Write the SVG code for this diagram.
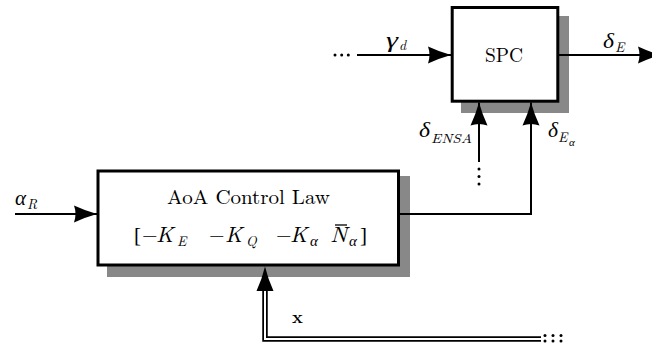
<svg xmlns="http://www.w3.org/2000/svg" width="652" height="350" viewBox="0 0 652 350">
<style>
.box{fill:#fff;stroke:#000;stroke-width:3}
.shadow{fill:#888}
.ln{fill:none;stroke:#000;stroke-width:2}
.t{font-family:"Latin Modern Roman","Liberation Serif","DejaVu Serif",serif;fill:#000}
.g{font-family:"Liberation Serif","DejaVu Serif",serif;font-style:italic;fill:#000}
.b{font-family:"Liberation Serif","DejaVu Serif",serif;font-style:normal;fill:#000}
.i{font-style:italic}
.dot{fill:#000}
</style>
<defs>
<marker id="ah" markerUnits="userSpaceOnUse" viewBox="-24 -9 25 18" refX="0" refY="0" markerWidth="25" markerHeight="18" orient="auto">
<path d="M0,0 Q-11,-3 -23,-8.5 Q-20,0 -23,8.5 Q-11,3 0,0 Z" fill="#000"/>
</marker>
</defs>
<g id="spc">
<rect class="shadow" x="461" y="16" width="108" height="97"/>
<rect class="box" x="452.2" y="7.5" width="105.6" height="93.7"/>
<text class="t" x="485" y="62" font-size="20" textLength="38" lengthAdjust="spacingAndGlyphs">SPC</text>
</g>
<g id="aoa">
<rect class="shadow" x="107" y="176" width="303" height="101"/>
<rect class="box" x="98" y="171" width="300.5" height="94"/>
<text class="t" x="167" y="204" font-size="20" textLength="163" lengthAdjust="spacingAndGlyphs">AoA Control Law</text>
<text class="b" font-size="21" x="134" y="242">[</text>
<text class="t" font-size="20" x="142" y="242">−</text>
<text class="t i" font-size="21" x="156" y="242" textLength="17.5" lengthAdjust="spacingAndGlyphs">K</text>
<text class="t i" font-size="14" x="177" y="246">E</text>
<text class="t" font-size="20" x="209" y="242">−</text>
<text class="t i" font-size="21" x="225" y="242" textLength="17.5" lengthAdjust="spacingAndGlyphs">K</text>
<text class="t i" font-size="14" x="246" y="246">Q</text>
<text class="t" font-size="20" x="276" y="242">−</text>
<text class="t i" font-size="21" x="290" y="242" textLength="17.5" lengthAdjust="spacingAndGlyphs">K</text>
<text class="g" font-size="15" x="310" y="246">α</text>
<text class="t i" font-size="21" x="330" y="242" textLength="17.5" lengthAdjust="spacingAndGlyphs">N</text>
<line x1="335" y1="225" x2="347" y2="225" stroke="#000" stroke-width="1.3"/>
<text class="g" font-size="15" x="349" y="246">α</text>
<text class="b" font-size="21" x="360" y="242">]</text>
</g>
<g id="connectors">
<line class="ln" x1="357" y1="55" x2="451" y2="55" marker-end="url(#ah)"/>
<line class="ln" x1="559" y1="55" x2="661" y2="55" marker-end="url(#ah)"/>
<line class="ln" x1="15" y1="214" x2="97" y2="214" marker-end="url(#ah)"/>
<polyline class="ln" points="400,214 531,214 531,102.5" marker-end="url(#ah)"/>
<line class="ln" x1="479" y1="162" x2="479" y2="102.5" marker-end="url(#ah)"/>
<polyline points="541,339 265,339 265,290" fill="none" stroke="#000" stroke-width="5.5"/>
<polyline points="541,339 265,339 265,289" fill="none" stroke="#fff" stroke-width="2"/>
<path d="M265,266.5 Q262,279 256.5,291 L273.5,291 Q268,279 265,266.5 Z" fill="#000"/>
<circle class="dot" cx="335" cy="55" r="1.5"/>
<circle class="dot" cx="341.7" cy="55" r="1.5"/>
<circle class="dot" cx="348.3" cy="55" r="1.5"/>
<circle class="dot" cx="479" cy="169" r="1.5"/>
<circle class="dot" cx="479" cy="176.5" r="1.5"/>
<circle class="dot" cx="479" cy="184" r="1.5"/>
<circle class="dot" cx="545" cy="335.5" r="1.5"/>
<circle class="dot" cx="553" cy="335.5" r="1.5"/>
<circle class="dot" cx="561" cy="335.5" r="1.5"/>
<circle class="dot" cx="545" cy="341" r="1.5"/>
<circle class="dot" cx="553" cy="341" r="1.5"/>
<circle class="dot" cx="561" cy="341" r="1.5"/>
<text class="g" font-size="21" x="386" y="47" textLength="12" lengthAdjust="spacingAndGlyphs">γ</text>
<text class="t i" font-size="14" x="399" y="50">d</text>
<text class="g" font-size="21" x="603" y="48" textLength="11" lengthAdjust="spacingAndGlyphs">δ</text>
<text class="t i" font-size="14" x="615" y="52">E</text>
<text class="g" font-size="20" x="15" y="205" textLength="11" lengthAdjust="spacingAndGlyphs">α</text>
<text class="t i" font-size="14" x="27" y="209">R</text>
<text class="g" font-size="21" x="419" y="137" textLength="11" lengthAdjust="spacingAndGlyphs">δ</text>
<text class="t i" font-size="13" x="431" y="143" textLength="41" lengthAdjust="spacingAndGlyphs">ENSA</text>
<text class="g" font-size="21" x="548" y="137" textLength="10" lengthAdjust="spacingAndGlyphs">δ</text>
<text class="t i" font-size="14" x="558" y="142">E</text>
<text class="g" font-size="11" x="569" y="146">α</text>
<text class="t" font-size="18" font-weight="bold" x="292" y="323">x</text>
</g>
</svg>
